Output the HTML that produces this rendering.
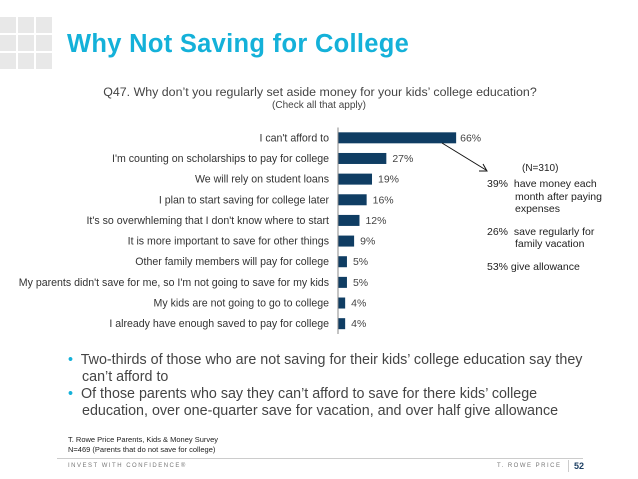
<!DOCTYPE html>
<html><head><meta charset="utf-8"><style>
body{margin:0;width:638px;height:479px;background:#fff;position:relative;overflow:hidden;font-family:"Liberation Sans",sans-serif;color:#333}
.a{position:absolute;white-space:nowrap}
.sq{position:absolute;width:16px;height:16px;background:#e8e8e8}
</style></head><body>
<div>
<div class="sq" style="left:0;top:17px"></div><div class="sq" style="left:18px;top:17px"></div><div class="sq" style="left:36px;top:17px"></div>
<div class="sq" style="left:0;top:35px"></div><div class="sq" style="left:18px;top:35px"></div><div class="sq" style="left:36px;top:35px"></div>
<div class="sq" style="left:0;top:53px"></div><div class="sq" style="left:18px;top:53px"></div><div class="sq" style="left:36px;top:53px"></div>
</div>
<div class="a" style="left:67px;top:30px;font-size:25.5px;font-weight:bold;color:#14b1d9;letter-spacing:0.3px">Why Not Saving for College</div>
<div class="a" style="left:0;width:640px;text-align:center;top:85px;font-size:12.4px;color:#444">Q47. Why don’t you regularly set aside money for your kids’ college education?</div>
<div class="a" style="left:0;width:638px;text-align:center;top:100px;font-size:10px;color:#444">(Check all that apply)</div>
<svg class="a" style="left:0;top:0" width="638" height="340" id="chart"></svg>
<div class="a" style="left:522px;top:163px;font-size:10px;color:#222">(N=310)</div>
<div class="a" style="left:487px;top:178px;font-size:10.5px;color:#222;line-height:12.5px">
<div>39%&nbsp; have money each</div><div style="padding-left:28px">month after paying</div><div style="padding-left:28px">expenses</div>
<div style="margin-top:10px">26%&nbsp; save regularly for</div><div style="padding-left:28px">family vacation</div>
<div style="margin-top:10px">53% give allowance</div></div>
<div class="a" style="left:68px;top:352px;font-size:14.3px;color:#444;line-height:17px">
<div><span style="color:#14b1d9">•</span>&nbsp; Two-thirds of those who are not saving for their kids’ college education say they</div>
<div style="padding-left:14px">can’t afford to</div>
<div><span style="color:#14b1d9">•</span>&nbsp; Of those parents who say they can’t afford to save for there kids’ college</div>
<div style="padding-left:14px">education, over one-quarter save for vacation, and over half give allowance</div></div>
<div class="a" style="left:68px;top:435px;font-size:7.5px;color:#222;line-height:10px">T. Rowe Price Parents, Kids &amp; Money Survey<br>N=469 (Parents that do not save for college)</div>
<div class="a" style="left:57px;top:458px;width:526px;height:1px;background:#ccc"></div>
<div class="a" style="left:68px;top:463px;font-size:6px;letter-spacing:1.5px;color:#777">INVEST WITH CONFIDENCE®</div>
<div class="a" style="left:497px;top:463px;font-size:6px;letter-spacing:1.5px;color:#777">T. ROWE PRICE</div>
<div class="a" style="left:568px;top:460px;width:1px;height:12px;background:#ccc"></div>
<div class="a" style="left:574px;top:461px;font-size:9px;font-weight:bold;color:#1d3f63">52</div>
<script>
const categories=["I can't afford to","I'm counting on scholarships to pay for college","We will rely on student loans","I plan to start saving for college later","It's so overwhleming that I don't know where to start","It is more important to save for other things","Other family members will pay for college","My parents didn't save for me, so I'm not going to save for my kids","My kids are not going to go to college","I already have enough saved to pay for college"];
const values=[66,27,19,16,12,9,5,5,4,4];
const labels=["66%","27%","19%","16%","12%","9%","5%","5%","4%","4%"];
const svg=document.getElementById('chart');const NS='http://www.w3.org/2000/svg';
const x0=338,px=1.79,y0=127.5,step=20.65,bh=11;
const xs=v=>x0+v*px, ys=i=>y0+i*step+step/2;
function mk(t,a){const e=document.createElementNS(NS,t);for(const k in a)e.setAttribute(k,a[k]);svg.appendChild(e);return e;}
values.forEach((v,i)=>{
 const r=mk('rect',{x:x0,y:ys(i)-bh/2,width:xs(v)-x0,height:bh,fill:'#0f3d63'});
 
 
 const c=mk('text',{x:x0-9,y:ys(i)+3.5,'text-anchor':'end','font-size':'10.6','fill':'#333','font-family':'Liberation Sans'});c.textContent=categories[i];
 
 
 const l=mk('text',{x:xs(v)+(i==0?4:6),y:ys(i)+3.5,'font-size':'10.5','fill':'#444','font-family':'Liberation Sans'});l.textContent=labels[i];
 
 
});
const ax=mk('line',{x1:x0,x2:x0,y1:y0,y2:y0+step*10,stroke:'#888','stroke-width':1});


const ar=mk('line',{x1:442,y1:143,x2:486,y2:170,stroke:'#111','stroke-width':1});


const ah=mk('path',{d:'M479,171 L487,171 L483,164',fill:'none',stroke:'#111','stroke-width':1});


</script>
</body></html>
